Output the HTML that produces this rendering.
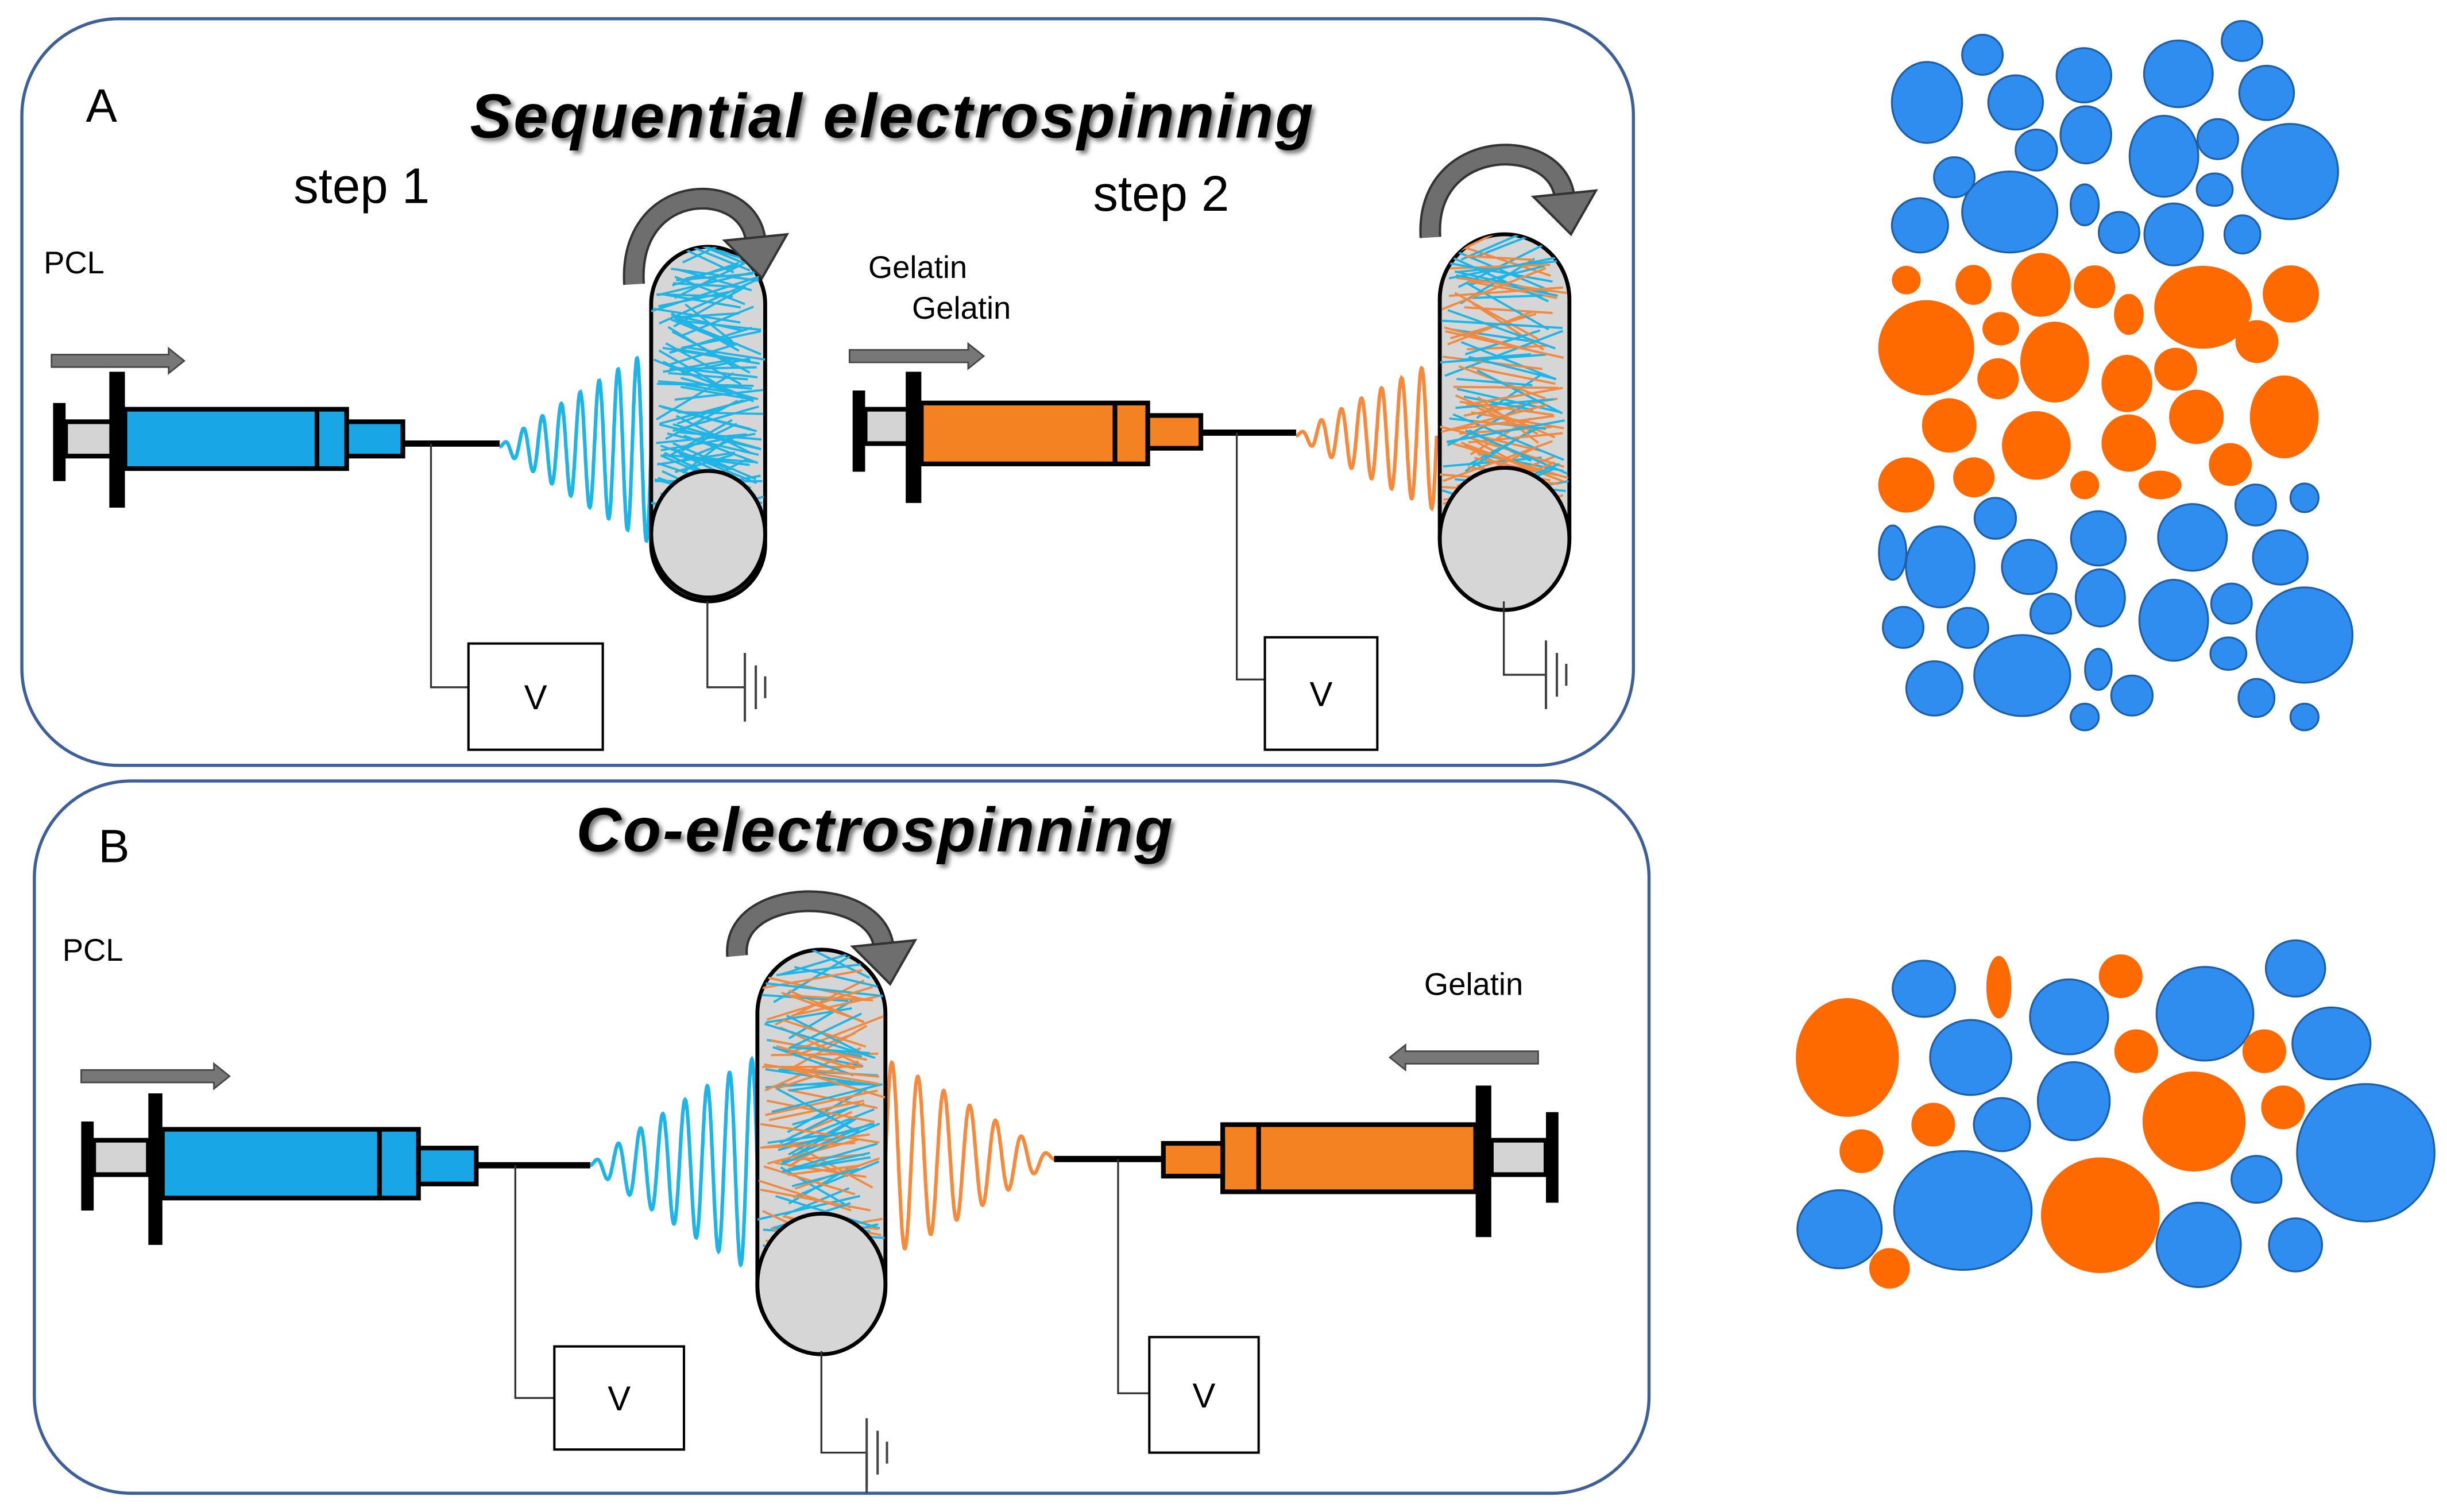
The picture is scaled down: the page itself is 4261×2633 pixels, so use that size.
<!DOCTYPE html>
<html><head><meta charset="utf-8"><style>
html,body{margin:0;padding:0;background:#fff;}
svg{display:block;}
text{font-family:"Liberation Sans",sans-serif;}
</style></head><body>
<svg id="s" width="4261" height="2633" viewBox="0 0 1567 968" preserveAspectRatio="none" xmlns="http://www.w3.org/2000/svg">
<defs>
<filter id="sh"><feDropShadow dx="2" dy="2" stdDeviation="1.5" flood-color="#777"/></filter>
<clipPath id="d1"><rect x="417" y="158" width="73" height="200" rx="36"/></clipPath>
<clipPath id="d2"><rect x="922" y="150" width="83" height="205" rx="41"/></clipPath>
<clipPath id="d3"><rect x="485" y="608" width="82" height="220" rx="41"/></clipPath>
</defs>
<rect width="1567" height="968" fill="#fff"/>
<rect x="14" y="12" width="1032" height="478" rx="62" fill="none" stroke="#3d5f9a" stroke-width="2"/>
<rect x="22" y="500" width="1034" height="456" rx="62" fill="none" stroke="#3d5f9a" stroke-width="2"/>
<text x="55" y="78" font-size="30">A</text>
<text x="63" y="552" font-size="30">B</text>
<text x="571" y="88" font-size="40" font-weight="bold" font-style="italic" text-anchor="middle" textLength="540" filter="url(#sh)">Sequential electrospinning</text>
<text x="560" y="545" font-size="40" font-weight="bold" font-style="italic" text-anchor="middle" textLength="382" filter="url(#sh)">Co-electrospinning</text>
<text x="188" y="130" font-size="32">step 1</text>
<text x="700" y="135" font-size="32">step 2</text>
<text x="28" y="175" font-size="20">PCL</text>
<text x="556" y="178" font-size="20">Gelatin</text>
<text x="584" y="204" font-size="20">Gelatin</text>
<text x="40" y="615" font-size="20">PCL</text>
<text x="912" y="637" font-size="20">Gelatin</text>
<g id="g"></g>
<g id="circ"></g>
</svg>
<script>
var g=document.getElementById('g');var NS='http://www.w3.org/2000/svg';
function el(t,a,p){var e=document.createElementNS(NS,t);for(var k in a)e.setAttribute(k,a[k]);(p||g).appendChild(e);return e;}
var seed=7;function rnd(){seed=(seed*16807)%2147483647;return seed/2147483647;}
function rect(x,y,w,h,f,sw){el('rect',{x:x,y:y,width:w,height:h,fill:f,stroke:'#000','stroke-width':sw||3});}
function bar(x,y,w,h){el('rect',{x:x,y:y,width:w,height:h,fill:'#000'});}
function hArrow(x1,x2,y,left){
  var h=4;var d;
  if(!left) d='M'+x1+','+(y-h)+'L'+(x2-10)+','+(y-h)+'L'+(x2-10)+','+(y-8)+'L'+x2+','+y+'L'+(x2-10)+','+(y+8)+'L'+(x2-10)+','+(y+h)+'L'+x1+','+(y+h)+'Z';
  else d='M'+x2+','+(y-h)+'L'+(x1+10)+','+(y-h)+'L'+(x1+10)+','+(y-8)+'L'+x1+','+y+'L'+(x1+10)+','+(y+8)+'L'+(x1+10)+','+(y+h)+'L'+x2+','+(y+h)+'Z';
  el('path',{d:d,fill:'#777',stroke:'#444','stroke-width':1});
}
function rot(cx,top,w,footY){
  var l=cx-w/2,r=cx+w/2;
  var p='M'+l+','+footY+'C'+(l-4)+','+(top-14)+' '+(r-8)+','+(top-14)+' '+(r-6)+','+(top+28);
  el('path',{d:p,fill:'none',stroke:'#333','stroke-width':14});
  el('path',{d:p,fill:'none',stroke:'#6e6e6e','stroke-width':11});
  el('polygon',{points:(r-26)+','+(top+26)+' '+(r+14)+','+(top+22)+' '+(r-2)+','+(top+50),fill:'#6e6e6e',stroke:'#333','stroke-width':1.5});
}
function drum(x,y,w,h,ecy,clip,cols){
  el('rect',{x:x,y:y,width:w,height:h,rx:w/2,fill:'#d6d6d6',stroke:'#000','stroke-width':2.5});
  var gg=el('g',{'clip-path':'url(#'+clip+')'});
  for(var i=0;i<110;i++){var c=cols[i%cols.length];var yy=y+10+rnd()*(ecy-y-10);
    var x1=x+rnd()*w*0.3,x2=x+w*0.7+rnd()*w*0.3;var dy=(rnd()-0.5)*60;
    if(rnd()<0.5){var t=x1;x1=x2;x2=t;}
    el('line',{x1:x1,y1:yy,x2:x2,y2:yy+dy,stroke:c,'stroke-width':1.4},gg);}
  el('ellipse',{cx:x+w/2,cy:ecy,rx:w/2,ry:w/2+4,fill:'#d6d6d6',stroke:'#000','stroke-width':2.5});
}
function spiral(x0,x1,cy,amax,col,cycles){
  var d='';var n=400;
  for(var i=0;i<=n;i++){var t=i/n;var x=x0+(x1-x0)*t;var a=amax*Math.pow(t,0.9);var yv=cy-a*Math.sin(t*cycles*2*Math.PI);d+=(i?'L':'M')+x.toFixed(1)+','+yv.toFixed(1);}
  el('path',{d:d,fill:'none',stroke:col,'stroke-width':2.3});
}
function wire(x,y1,y2,x2){el('polyline',{points:x+','+y1+' '+x+','+y2+' '+x2+','+y2,fill:'none',stroke:'#333','stroke-width':1.2});}
function vbox(x,y,w,h){el('rect',{x:x,y:y,width:w,height:h,fill:'#fff',stroke:'#000','stroke-width':1.5});el('text',{x:x+w/2,y:y+h/2+8,'font-size':22,'text-anchor':'middle'}).textContent='V';}
function ground(x,y1,y2,gx){
  wire(x,y1,y2,gx);
  el('line',{x1:gx,y1:y2-22,x2:gx,y2:y2+22,stroke:'#444','stroke-width':1.5});
  el('line',{x1:gx+7,y1:y2-14,x2:gx+7,y2:y2+14,stroke:'#444','stroke-width':1.5});
  el('line',{x1:gx+13,y1:y2-7,x2:gx+13,y2:y2+7,stroke:'#444','stroke-width':1.5});
}
var BL='#19a6e6',OR='#f58220';
hArrow(33,118,231,false);
bar(34,258,8,50);rect(42,270,33,22,'#d4d4d4',0);bar(70,238,10,87);
rect(80,262,142,38,BL);el('line',{x1:203,y1:262,x2:203,y2:300,stroke:'#000','stroke-width':3});
rect(222,270,36,22,BL);el('line',{x1:258,y1:284,x2:320,y2:284,stroke:'#000','stroke-width':4});
wire(276,284,440,300);vbox(300,412,86,68);
spiral(320,417,286,62,'#1eb4e6',8);
drum(417,158,73,227,342,'d1',['#1eb4e6']);
ground(453,385,440,477);
rot(448,128,84,182);
hArrow(544,630,228,false);
bar(546,250,8,52);rect(554,262,31,22,'#d4d4d4',0);bar(580,238,10,84);
rect(590,258,145,39,OR);el('line',{x1:714,y1:258,x2:714,y2:297,stroke:'#000','stroke-width':3});
rect(735,266,34,21,OR);el('line',{x1:769,y1:277,x2:830,y2:277,stroke:'#000','stroke-width':4});
wire(792,277,435,810);vbox(810,408,72,72);
spiral(830,920,279,48,'#f58a3c',7);
drum(922,150,83,235,345,'d2',['#1eb4e6','#f08a40']);
ground(963,385,432,990);
rot(962,100,92,152);
hArrow(52,147,689,false);
bar(52,718,8,57);rect(60,730,35,22,'#d4d4d4',0);bar(95,700,9,97);
rect(104,723,164,44,BL);el('line',{x1:243,y1:723,x2:243,y2:767,stroke:'#000','stroke-width':3});
rect(268,735,37,23,BL);el('line',{x1:305,y1:746,x2:378,y2:746,stroke:'#000','stroke-width':4});
wire(330,746,895,355);vbox(355,862,83,66);
spiral(378,485,746,70,'#1eb4e6',7.5);
hArrow(890,985,677,true);
bar(990,712,8,58);rect(955,730,35,22,'#d4d4d4',0);bar(945,695,10,97);
rect(783,720,162,43,OR);el('line',{x1:806,y1:720,x2:806,y2:763,stroke:'#000','stroke-width':3});
rect(745,732,38,21,OR);el('line',{x1:675,y1:742,x2:745,y2:742,stroke:'#000','stroke-width':4});
wire(716,742,892,736);vbox(736,856,70,74);
(function(){var d='';var n=400,x0=675,x1=567,cy=742,amax=64;for(var i=0;i<=n;i++){var t=i/n;var x=x0+(x1-x0)*t;var a=amax*Math.pow(t,0.9);var yv=cy-a*Math.sin(t*6.5*2*Math.PI);d+=(i?'L':'M')+x.toFixed(1)+','+yv.toFixed(1);}el('path',{d:d,fill:'none',stroke:'#f58a3c','stroke-width':2.3});})();
drum(485,608,82,257,822,'d3',['#1eb4e6','#f08a40']);
ground(526,865,930,555);
el('line',{x1:555,y1:930,x2:555,y2:956,stroke:'#444','stroke-width':1.5});
rot(522,580,100,612);
var cg=document.getElementById('circ');
var A=[[228,215,90,85],[370,115,52,42],[455,215,70,57],[630,158,70,57],[635,283,65,60],[508,315,53,43],[298,372,52,42],[440,445,122,85],[210,473,72,57],[632,430,36,43],[720,488,52,43],[835,328,88,85],[872,155,88,70],[1035,86,52,42],[1098,195,70,57],[973,292,52,42],[1158,360,123,100],[965,398,46,34],[860,492,75,65],[1036,492,46,40]];
var O=[[175,588,37,30],[347,598,46,42],[520,598,76,67],[657,602,53,45],[745,660,38,43],[935,645,125,87],[1160,617,72,60],[226,730,123,100],[417,690,47,35],[555,760,88,85],[410,795,53,43],[740,805,65,60],[865,775,55,45],[1073,717,55,45],[285,893,70,57],[508,935,88,72],[745,930,70,60],[918,875,70,57],[1143,875,88,87],[1005,975,55,45],[175,1018,72,58],[348,1002,53,42],[632,1018,37,30],[825,1018,55,30]];
var B=[[403,1088,53,43],[1070,1060,52,43],[1195,1045,36,30],[140,1160,35,57],[262,1190,88,85],[490,1190,70,57],[667,1130,70,57],[908,1128,88,70],[1133,1170,70,57],[545,1288,52,42],[672,1255,63,60],[860,1302,88,85],[1008,1267,52,42],[1195,1333,123,100],[167,1317,52,43],[333,1318,52,42],[472,1418,123,85],[247,1445,72,57],[667,1405,34,43],[753,1460,53,42],[1000,1372,46,34],[1072,1465,46,40],[632,1505,36,28],[1195,1505,36,28]];
function zc(a,col,st){a.forEach(function(c){el('ellipse',{cx:1177+c[0]*0.25,cy:c[1]*0.305,rx:c[2]*0.25,ry:c[3]*0.305,fill:col,stroke:st,'stroke-width':st=='none'?0:1.2},cg);});}
zc(A,'#2f8df0','#1f5fa8');zc(O,'#ff6a00','none');zc(B,'#2f8df0','#1f5fa8');
var BO=[[1183,677,33,38],[1280,632,8,20],[1358,625,14,14],[1192,737,14,14],[1238,720,14,14],[1368,673,14,14],[1450,673,14,14],[1405,718,33,32],[1462,709,14,14],[1345,778,38,37],[1210,812,13,13]];
var BB=[[1232,633,20,18],[1262,677,26,24],[1325,651,25,24],[1412,649,31,30],[1470,620,19,18],[1493,668,25,23],[1328,705,23,25],[1282,720,18,17],[1178,787,27,25],[1257,775,44,38],[1408,797,27,27],[1445,755,16,15],[1515,738,44,44],[1470,797,17,17]];
BB.forEach(function(c){el('ellipse',{cx:c[0],cy:c[1],rx:c[2],ry:c[3],fill:'#2f8df0',stroke:'#1f5fa8','stroke-width':1.2},cg);});
BO.forEach(function(c){el('ellipse',{cx:c[0],cy:c[1],rx:c[2],ry:c[3],fill:'#ff6a00',stroke:'none'},cg);});
</script>
</body></html>
